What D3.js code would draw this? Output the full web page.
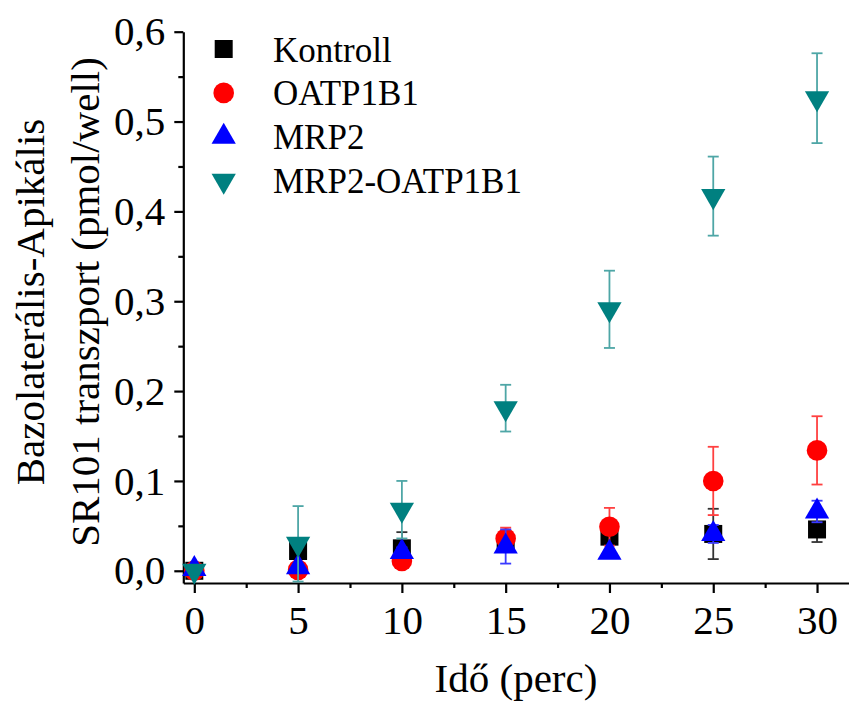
<!DOCTYPE html>
<html>
<head>
<meta charset="utf-8">
<script src="https://cdn.jsdelivr.net/npm/d3@7"></script>
<style>
  html, body { margin: 0; padding: 0; background: #fff; }
  svg { display: block; }
</style>
</head>
<body>
<svg id="chart" width="849" height="704"></svg>
<script>
// ---- data ----
const times = [0, 5, 10, 15, 20, 25, 30];
const seriesNames = ["Kontroll", "OATP1B1", "MRP2", "MRP2-OATP1B1"];
const kontroll    = [0.000, 0.022, 0.025, 0.030, 0.038, 0.041, 0.046];
const kontrollErr = [0.002, 0.007, 0.018, 0.006, 0.009, 0.028, 0.014];
const oatp        = [0.000, 0.001, 0.011, 0.036, 0.049, 0.100, 0.134];
const oatpErr     = [0.002, 0.004, 0.006, 0.012, 0.021, 0.038, 0.038];
const mrp2        = [0.002, 0.004, 0.021, 0.027, 0.020, 0.041, 0.066];
const mrp2Err     = [0.002, 0.003, 0.005, 0.019, 0.003, 0.010, 0.012];
const mrp2oatp    = [0.000, 0.030, 0.068, 0.181, 0.291, 0.417, 0.526];
const mrp2oatpErr = [0.002, 0.042, 0.032, 0.026, 0.043, 0.044, 0.050];
const xTicks = [0, 5, 10, 15, 20, 25, 30];
const xMinorTicks = [2.5, 7.5, 12.5, 17.5, 22.5, 27.5];
const yTicks = [0, 0.1, 0.2, 0.3, 0.4, 0.5, 0.6];
const yTickLabels = ["0,0", "0,1", "0,2", "0,3", "0,4", "0,5", "0,6"];
const yMinorTicks = [0.05, 0.15, 0.25, 0.35, 0.45, 0.55];
const xTitle = "Idő (perc)";
const yTitle = ["Bazolaterális-Apikális", "SR101 transzport (pmol/well)"];

const colors = ["#000000", "#ff0000", "#0000ff", "#008080"];
const errColors = ["#333333", "#ff4040", "#3a3aff", "#4ea6a6"];
const values = [kontroll, oatp, mrp2, mrp2oatp];
const errs = [kontrollErr, oatpErr, mrp2Err, mrp2oatpErr];
const FONT = "'Liberation Serif', 'DejaVu Serif', serif";

// ---- scales ----
const svg = d3.select("#chart");
const x = d3.scaleLinear().domain([-0.53, 31.54]).range([183.3, 849]);
const y = d3.scaleLinear().domain([-0.0136, 0.6]).range([583, 31.7]);

// symbols
const squareSym = { draw(ctx, size) { const s = Math.sqrt(size) / 2; ctx.rect(-s, -s, 2 * s, 2 * s); } };
const symbolDefs = [
  { type: squareSym, size: 18 * 18, rot: 0 },
  { type: d3.symbolCircle, size: Math.PI * 10.3 * 10.3, rot: 0 },
  { type: d3.symbolTriangle, size: 255, rot: 0 },
  { type: d3.symbolTriangle, size: 255, rot: 180 }
];

// ---- axes ----
const gx = svg.append("g").attr("transform", `translate(0,${y.range()[0]})`);
gx.call(d3.axisBottom(x).tickValues(xTicks).tickSize(10).tickPadding(12).tickSizeOuter(0))
  .attr("font-family", FONT)
  .call(g => g.select(".domain").attr("stroke-width", 2.2))
  .call(g => g.selectAll(".tick line").attr("stroke-width", 2.2))
  .call(g => g.selectAll(".tick text").attr("font-size", 41).style("font-family", FONT));
svg.append("g").attr("transform", `translate(0,${y.range()[0]})`)
  .call(d3.axisBottom(x).tickValues(xMinorTicks).tickSize(5).tickFormat("").tickSizeOuter(0))
  .call(g => g.select(".domain").remove())
  .call(g => g.selectAll(".tick line").attr("stroke-width", 2.2));

const gy = svg.append("g").attr("transform", `translate(${x.range()[0]},0)`);
gy.call(d3.axisLeft(y).tickValues(yTicks).tickSize(9).tickPadding(9).tickSizeOuter(0)
        .tickFormat((d, i) => yTickLabels[i]))
  .attr("font-family", FONT)
  .call(g => g.select(".domain").attr("stroke-width", 2.2))
  .call(g => g.selectAll(".tick line").attr("stroke-width", 2.2))
  .call(g => g.selectAll(".tick text").attr("font-size", 41).style("font-family", FONT));
svg.append("g").attr("transform", `translate(${x.range()[0]},0)`)
  .call(d3.axisLeft(y).tickValues(yMinorTicks).tickSize(5).tickFormat("").tickSizeOuter(0))
  .call(g => g.select(".domain").remove())
  .call(g => g.selectAll(".tick line").attr("stroke-width", 2.2));

// ---- titles ----
svg.append("text").attr("x", 516).attr("y", 692).attr("text-anchor", "middle")
  .style("font-family", FONT).attr("font-size", 41).text(xTitle);
yTitle.forEach((t, i) => {
  svg.append("text")
    .attr("transform", `translate(${[44, 99][i]},302) rotate(-90)`)
    .style("font-family", FONT)
    .attr("text-anchor", "middle").attr("font-size", 41).text(t);
});

// ---- data ----
const plot = svg.append("g");
values.forEach((vals, si) => {
  const g = plot.append("g");
  const data = times.map((t, i) => ({ t, v: vals[i], e: errs[si][i] }));
  const eb = g.selectAll(".eb").data(data).enter().append("g")
    .attr("stroke", errColors[si]).attr("stroke-width", 1.8);
  eb.append("line").attr("x1", d => x(d.t)).attr("x2", d => x(d.t))
    .attr("y1", d => y(d.v - d.e)).attr("y2", d => y(d.v + d.e));
  eb.append("line").attr("x1", d => x(d.t) - 5.5).attr("x2", d => x(d.t) + 5.5)
    .attr("y1", d => y(d.v + d.e)).attr("y2", d => y(d.v + d.e));
  eb.append("line").attr("x1", d => x(d.t) - 5.5).attr("x2", d => x(d.t) + 5.5)
    .attr("y1", d => y(d.v - d.e)).attr("y2", d => y(d.v - d.e));
  const sd = symbolDefs[si];
  g.selectAll(".pt").data(data).enter().append("path")
    .attr("d", d3.symbol().type(sd.type).size(sd.size))
    .attr("transform", d => `translate(${x(d.t)},${y(d.v)}) rotate(${sd.rot})`)
    .attr("fill", colors[si]);
});

// ---- legend ----
const legend = svg.append("g");
seriesNames.forEach((name, i) => {
  const cy = 49 + i * 43.9;
  const sd = symbolDefs[i];
  legend.append("path")
    .attr("d", d3.symbol().type(sd.type).size(sd.size))
    .attr("transform", `translate(223.7,${cy}) rotate(${sd.rot})`)
    .attr("fill", colors[i]);
  legend.append("text").attr("x", 273).attr("y", cy + 12.5)
    .style("font-family", FONT)
    .attr("font-size", 35).text(name);
});
</script>
</body>
</html>
